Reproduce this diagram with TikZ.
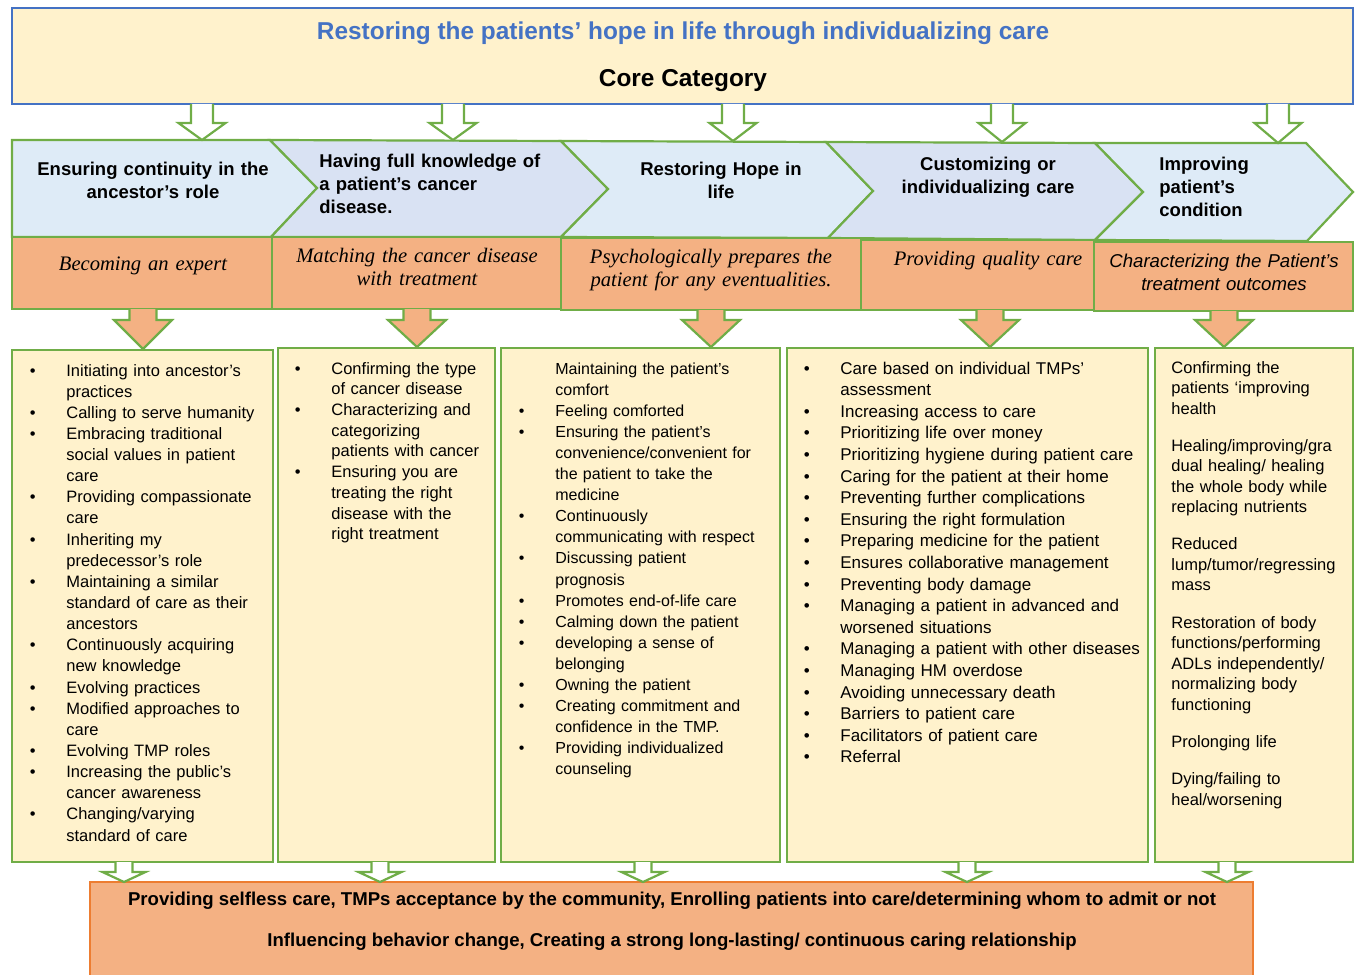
\documentclass[tikz,border=0pt]{standalone}
\usepackage{fontspec}
\setmainfont{Liberation Sans}
\newfontfamily\serifit{Liberation Serif}
\definecolor{gr}{HTML}{70AD47}
\definecolor{yel}{HTML}{FFF2CC}
\definecolor{blu}{HTML}{4472C4}
\definecolor{orng}{HTML}{F4B183}
\definecolor{orngd}{HTML}{ED7D31}
\definecolor{chA}{HTML}{DEEBF7}
\definecolor{chB}{HTML}{D9E2F3}
\newcommand{\bi}[1]{\makebox[18.25pt][l]{\textbullet}#1}
\newcommand{\ci}[1]{\hspace*{18.25pt}#1}
\newcommand{\blockarrow}[7]{%
  \filldraw[#7] ({#1-#5},#2) -- ({#1-#5},#3) -- ({#1-#6},#3) -- (#1,#4) -- ({#1+#6},#3) -- ({#1+#5},#3) -- ({#1+#5},#2);}
\tikzset{
  gline/.style={draw=gr, line width=1.1pt, line join=miter},
  hollow/.style={gline, fill=white},
  orarrow/.style={gline, fill=orng},
  hd/.style={inner sep=0pt, font=\bfseries\fontsize{9.25}{11.5}\selectfont, text width=150pt},
  sub/.style={inner sep=0pt, font=\serifit\itshape\fontsize{10.3}{11.5}\selectfont, text width=150pt, align=center, anchor=base},
  lst/.style={inner sep=0pt, anchor=base west, align=left},
  bold/.style={inner sep=0pt, anchor=base, font=\bfseries\fontsize{9.3}{11}\selectfont}
}
\begin{document}
\begin{tikzpicture}[x=0.5pt,y=-0.5pt]
\useasboundingbox (0,0) rectangle (1358,974);
\clip (0,0) rectangle (1358,974);

% top box
\filldraw[fill=yel, draw=blu, line width=1.1pt] (12,8) rectangle (1353,104);
\node[inner sep=0pt, anchor=base, font=\bfseries\fontsize{12.2}{14}\selectfont, text=blu] (title) at (683,40) {Restoring the patients’ hope in life through individualizing care};
\node[inner sep=0pt, anchor=base, font=\bfseries\fontsize{12.2}{14}\selectfont] (core) at (683,87) {Core Category};

% chevrons
\filldraw[gline, fill=chA] (12,140) -- (270,140) -- (317,188) -- (271,237) -- (12,237) -- cycle;
\filldraw[gline, fill=chB] (270,140) -- (561,141) -- (608,189) -- (561,237) -- (271,237) -- (317,188) -- cycle;
\filldraw[gline, fill=chA] (561,141) -- (826,142) -- (873,191) -- (828,238) -- (561,237) -- (608,189) -- cycle;
\filldraw[gline, fill=chB] (826,142) -- (1095,143) -- (1143,192) -- (1095,240) -- (828,238) -- (873,191) -- cycle;
\filldraw[gline, fill=chA] (1095,143) -- (1306,143) -- (1353,192) -- (1307,241) -- (1095,240) -- (1143,192) -- cycle;

\node[hd, align=center, anchor=base] (h1) at (153,175) {Ensuring continuity in the\\ancestor’s role};
\node[hd, align=left, anchor=base west] (h2) at (319,167) {Having full knowledge of\\a patient's cancer\\disease.};
\node[hd, align=center, anchor=base] (h3) at (721,175) {Restoring Hope in\\life};
\node[hd, align=center, anchor=base] (h4) at (988,170) {Customizing or\\individualizing care};
\node[hd, align=left, anchor=base west] (h5) at (1159,170) {Improving\\patient’s\\condition};

% orange boxes
\filldraw[gline, fill=orng] (12,237) rectangle (272,309);
\filldraw[gline, fill=orng] (272,237) rectangle (561,309);
\filldraw[gline, fill=orng] (561,238) rectangle (861,310);
\filldraw[gline, fill=orng] (861,240) rectangle (1094,310);
\filldraw[gline, fill=orng] (1094,242) rectangle (1353,311);

\node[sub] (s1) at (143,270) {Becoming an expert};
\node[sub] (s2) at (417,262) {Matching the cancer disease\\with treatment};
\node[sub] (s3) at (711,263) {Psychologically prepares the\\patient for any eventualities.};
\node[sub] (s4) at (988,265) {Providing quality care};
\node[sub, font=\itshape\fontsize{9.3}{11.5}\selectfont] (s5) at (1224,267) {Characterizing the Patient’s\\treatment outcomes};

% top hollow arrows
\blockarrow{202}{104}{123}{140}{11}{23.5}{hollow}
\blockarrow{453}{104}{123}{140}{11}{23.5}{hollow}
\blockarrow{733}{104}{123}{141}{11}{23.5}{hollow}
\blockarrow{1002}{104}{123}{142}{11}{23.5}{hollow}
\blockarrow{1278}{104}{123}{143}{11}{23.5}{hollow}

% list boxes
\filldraw[gline, fill=yel, line width=1.4pt] (12,350) rectangle (273,862);
\filldraw[gline, fill=yel, line width=1.4pt] (278,348) rectangle (495,862);
\filldraw[gline, fill=yel, line width=1.4pt] (501,348) rectangle (780,862);
\filldraw[gline, fill=yel, line width=1.4pt] (787,348) rectangle (1148,862);
\filldraw[gline, fill=yel, line width=1.4pt] (1155,348) rectangle (1353,862);

% orange arrows
\blockarrow{143}{309}{320}{349}{13.5}{29}{orarrow}
\blockarrow{417}{309}{320}{347}{13.5}{29}{orarrow}
\blockarrow{711}{310}{320}{347}{13.5}{29}{orarrow}
\blockarrow{990}{310}{320}{347}{13.5}{29}{orarrow}
\blockarrow{1224}{311}{320}{347}{13.5}{29}{orarrow}

% lists
\node[lst, text width=125pt, font=\fontsize{8.25}{10.57}\selectfont] (l1) at (29.5,376) {%
\bi{Initiating into ancestor’s}\\
\ci{practices}\\
\bi{Calling to serve humanity}\\
\bi{Embracing traditional}\\
\ci{social values in patient}\\
\ci{care}\\
\bi{Providing compassionate}\\
\ci{care}\\
\bi{Inheriting my}\\
\ci{predecessor’s role}\\
\bi{Maintaining a similar}\\
\ci{standard of care as their}\\
\ci{ancestors}\\
\bi{Continuously acquiring}\\
\ci{new knowledge}\\
\bi{Evolving practices}\\
\bi{Modified approaches to}\\
\ci{care}\\
\bi{Evolving TMP roles}\\
\bi{Increasing the public’s}\\
\ci{cancer awareness}\\
\bi{Changing/varying}\\
\ci{standard of care}};

\node[lst, text width=105pt, font=\fontsize{8.25}{10.37}\selectfont] (l2) at (294.5,374) {%
\bi{Confirming the type}\\
\ci{of cancer disease}\\
\bi{Characterizing and}\\
\ci{categorizing}\\
\ci{patients with cancer}\\
\bi{Ensuring you are}\\
\ci{treating the right}\\
\ci{disease with the}\\
\ci{right treatment}};

\node[lst, text width=140pt, font=\fontsize{8}{10.55}\selectfont] (l3) at (518.5,374) {%
\ci{Maintaining the patient's}\\
\ci{comfort}\\
\bi{Feeling comforted}\\
\bi{Ensuring the patient's}\\
\ci{convenience/convenient for}\\
\ci{the patient to take the}\\
\ci{medicine}\\
\bi{Continuously}\\
\ci{communicating with respect}\\
\bi{Discussing patient}\\
\ci{prognosis}\\
\bi{Promotes end-of-life care}\\
\bi{Calming down the patient}\\
\bi{developing a sense of}\\
\ci{belonging}\\
\bi{Owning the patient}\\
\bi{Creating commitment and}\\
\ci{confidence in the TMP.}\\
\bi{Providing individualized}\\
\ci{counseling}};

\node[lst, text width=175pt, font=\fontsize{8.5}{10.8}\selectfont] (l4) at (803.5,374) {%
\bi{Care based on individual TMPs'}\\
\ci{assessment}\\
\bi{Increasing access to care}\\
\bi{Prioritizing life over money}\\
\bi{Prioritizing hygiene during patient care}\\
\bi{Caring for the patient at their home}\\
\bi{Preventing further complications}\\
\bi{Ensuring the right formulation}\\
\bi{Preparing medicine for the patient}\\
\bi{Ensures collaborative management}\\
\bi{Preventing body damage}\\
\bi{Managing a patient in advanced and}\\
\ci{worsened situations}\\
\bi{Managing a patient with other diseases}\\
\bi{Managing HM overdose}\\
\bi{Avoiding unnecessary death}\\
\bi{Barriers to patient care}\\
\bi{Facilitators of patient care}\\
\bi{Referral}};

\node[lst, text width=100pt, font=\fontsize{8.25}{10.25}\selectfont] (l5) at (1171,373) {%
Confirming the\\
patients ‘improving\\
health\\[8.35pt]
Healing/improving/gra\\
dual healing/ healing\\
the whole body while\\
replacing nutrients\\[8.35pt]
Reduced\\
lump/tumor/regressing\\
mass\\[8.35pt]
Restoration of body\\
functions/performing\\
ADLs independently/\\
normalizing body\\
functioning\\[8.35pt]
Prolonging life\\[8.35pt]
Dying/failing to\\
heal/worsening};

% bottom box
\fill[orng] (90,882) rectangle (1253,990);
\draw[orngd, line width=1pt] (90,990) -- (90,882) -- (1253,882) -- (1253,990);
\node[bold] (b1) at (672,905) {Providing selfless care, TMPs acceptance by the community, Enrolling patients into care/determining whom to admit or not};
\node[bold] (b2) at (672,946) {Influencing behavior change, Creating a strong long-lasting/ continuous caring relationship};

% bottom hollow arrows
\blockarrow{124}{862}{872}{882}{8.5}{21.5}{hollow}
\blockarrow{380}{862}{872}{882}{8.5}{21.5}{hollow}
\blockarrow{643}{862}{872}{882}{8.5}{21.5}{hollow}
\blockarrow{967}{862}{872}{882}{8.5}{21.5}{hollow}
\blockarrow{1227}{862}{872}{882}{8.5}{21.5}{hollow}
\end{tikzpicture}
\end{document}
